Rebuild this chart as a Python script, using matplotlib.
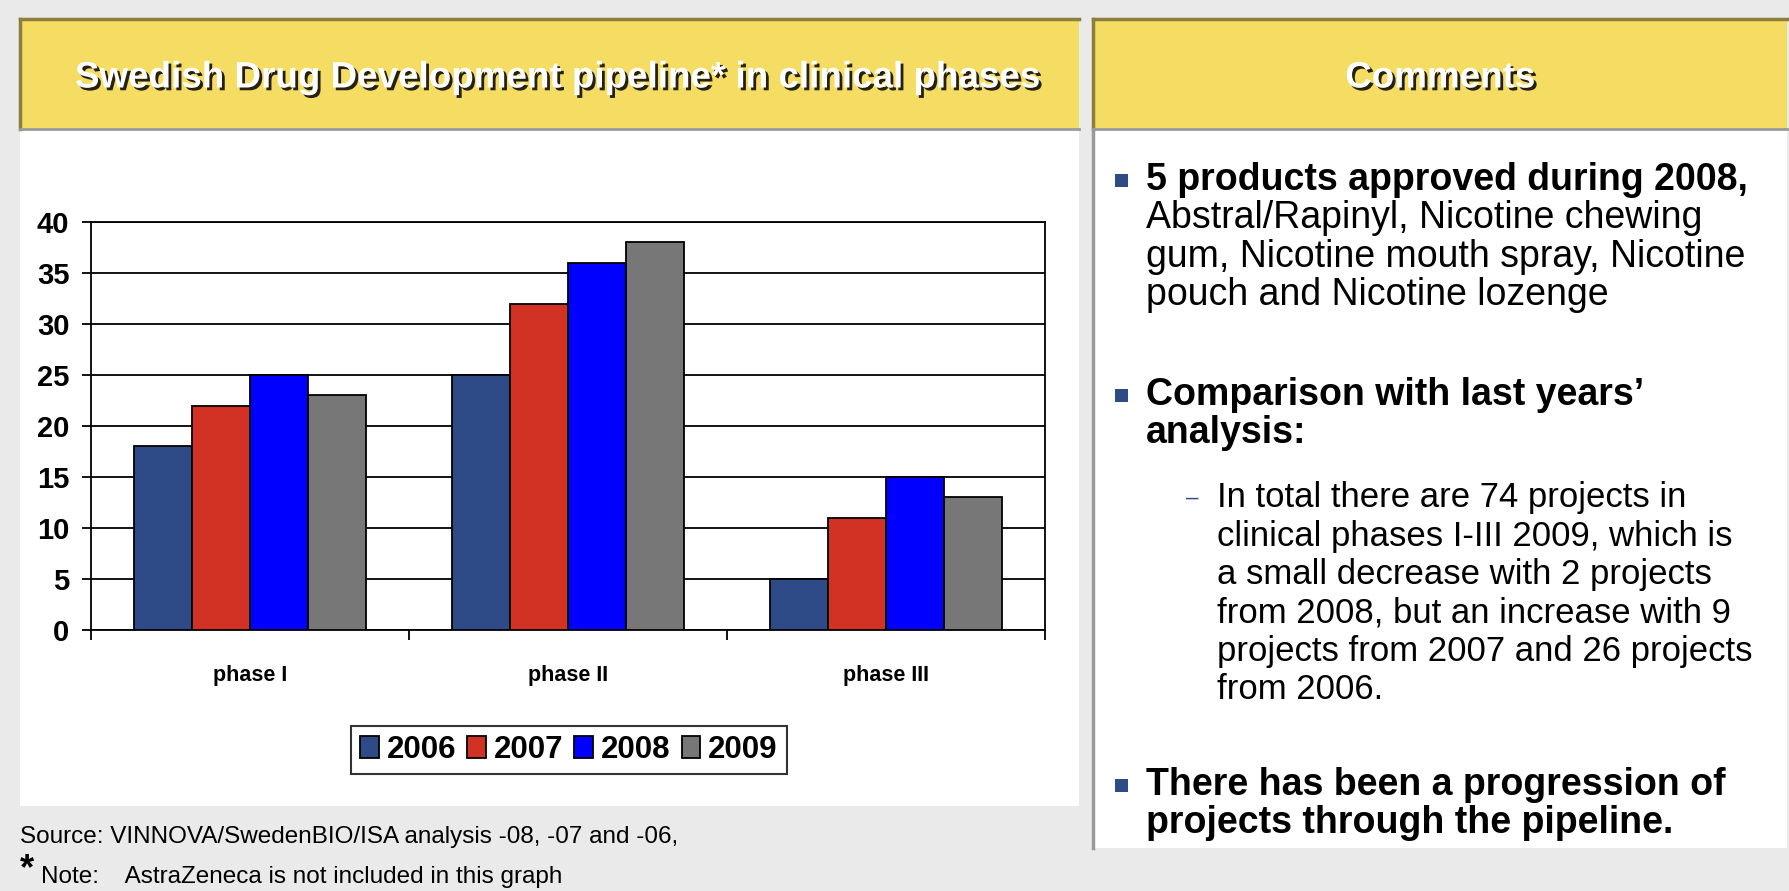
import numpy as np
import matplotlib
matplotlib.use("Agg")
import matplotlib.pyplot as plt
import matplotlib.patheffects as pe
from matplotlib.patches import Rectangle

# ---- data ----
phases = ["phase I", "phase II", "phase III"]
years = ["2006", "2007", "2008", "2009"]
v2006 = [18, 25, 5]
v2007 = [22, 32, 11]
v2008 = [25, 36, 15]
v2009 = [23, 38, 13]
colors = ["#2E4A87", "#D23224", "#0000FF", "#777777"]

title_left = "Swedish Drug Development pipeline* in clinical phases"
title_right = "Comments"
source = "Source: VINNOVA/SwedenBIO/ISA analysis -08, -07 and -06,"
note = "Note:    AstraZeneca is not included in this graph"

bullet1 = ["5 products approved during 2008,", "Abstral/Rapinyl, Nicotine chewing",
           "gum, Nicotine mouth spray, Nicotine", "pouch and Nicotine lozenge"]
bullet2 = ["Comparison with last years\u2019", "analysis:"]
sub2 = ["In total there are 74 projects in", "clinical phases I-III 2009, which is",
        "a small decrease with 2 projects", "from 2008, but an increase with 9",
        "projects from 2007 and 26 projects", "from 2006."]
bullet3 = ["There has been a progression of", "projects through the pipeline."]

W, H = 1789, 891
YELLOW = "#F5DC62"
GREYBG = "#EAEAEA"
plt.rcParams["font.family"] = ["Liberation Sans", "DejaVu Sans"]

fig = plt.figure(figsize=(W / 100, H / 100), dpi=100)
fig.patch.set_facecolor(GREYBG)

# background canvas in pixel coords (y down)
bg = fig.add_axes([0, 0, 1, 1])
bg.set_xlim(0, W); bg.set_ylim(H, 0); bg.axis("off")

# panels
bg.add_patch(Rectangle((20, 129), 1059, 677, fc="white", ec="none"))
bg.add_patch(Rectangle((1093, 129), 694, 719, fc="white", ec="none"))
for x0, w in ((20, 1059), (1093, 694)):
    bg.add_patch(Rectangle((x0, 19), w, 110, fc=YELLOW, ec="none"))
    bg.plot([x0, x0 + w], [19, 19], color="#8C7E3C", lw=2.5)
    bg.plot([x0, x0], [19, 129], color="#8C7E3C", lw=2.5)
    bg.plot([x0, x0 + w], [129, 129], color="#9A9A9A", lw=2)
bg.plot([1093, 1093], [129, 848], color="#9A9A9A", lw=2.5)

shadow = [pe.withSimplePatchShadow(offset=(2, -2), shadow_rgbFace="black", alpha=0.85)]
bg.text(557, 78, title_left, color="white", fontsize=26.5, fontweight="bold",
        ha="center", va="center", path_effects=shadow)
bg.text(1440, 78, title_right, color="white", fontsize=26.5, fontweight="bold",
        ha="center", va="center", path_effects=shadow)

bg.text(20, 837, source, fontsize=17.5, ha="left", va="center", color="black")
bg.text(20, 870, "*", fontsize=26, fontweight="bold", ha="left", va="center")
bg.text(41, 877, note, fontsize=17.5, ha="left", va="center")

# comments column
FS = 27
FS_SUB = 25
STEP = 38.3
bx, tx, dx, sx = 1115, 1146, 1186, 1217

def bullet(y0, lines, bold_lines):
    bg.add_patch(Rectangle((bx, y0 - 6.5), 13, 13, fc="#2E4A87", ec="none"))
    for i, ln in enumerate(lines):
        bg.text(tx, y0 + i * STEP, ln, fontsize=FS, va="center", ha="left",
                fontweight="bold" if i < bold_lines else "normal")

bullet(180, bullet1, 1)
bullet(395, bullet2, 2)
bg.text(dx, 498, "\u2013", fontsize=16, color="#2E4A87", va="center", ha="left")
for i, ln in enumerate(sub2):
    bg.text(sx, 498 + i * STEP, ln, fontsize=FS_SUB, va="center", ha="left")
bullet(785, bullet3, 2)

# ---- bar chart ----
ax = fig.add_axes([91 / W, 1 - 630 / H, 954 / W, 408 / H])
x = np.arange(len(phases))
bw = 0.183
series = [v2006, v2007, v2008, v2009]
handles = []
for k, (vals, c) in enumerate(zip(series, colors)):
    b = ax.bar(x + (k - 1.5) * bw, vals, bw, color=c, edgecolor="black",
               linewidth=1.3, zorder=3)
    handles.append(b)

ax.set_xlim(-0.5, 2.5)
ax.set_ylim(0, 40)
ax.set_yticks(np.arange(0, 41, 5))
ax.yaxis.grid(True, color="black", lw=1.3, zorder=0)
ax.set_axisbelow(True)
for s in ax.spines.values():
    s.set_linewidth(1.3); s.set_color("black")
ax.tick_params(axis="y", direction="out", length=6.5, width=1.3, pad=9,
               labelsize=21)
for t in ax.get_yticklabels():
    t.set_fontweight("bold")
ax.set_xticks([-0.5, 0.5, 1.5, 2.5])
ax.set_xticklabels([])
ax.tick_params(axis="x", which="major", direction="out", length=7.5, width=1.3)
ax.set_xticks(x, minor=True)
ax.set_xticklabels(phases, minor=True, fontweight="bold", fontsize=15.5)
ax.tick_params(axis="x", which="minor", length=0, pad=25)

leg = fig.legend(handles, years, loc="center", bbox_to_anchor=(569 / W, 1 - 750 / H),
                 ncol=4, frameon=True, fancybox=False, edgecolor="black",
                 prop={"weight": "bold", "size": 22.5}, handlelength=0.6,
                 handleheight=0.7, handletextpad=0.25, columnspacing=0.35,
                 borderpad=0.3, borderaxespad=0)
leg.get_frame().set_linewidth(1.5)

fig.savefig("out.png", dpi=100, facecolor=GREYBG)
